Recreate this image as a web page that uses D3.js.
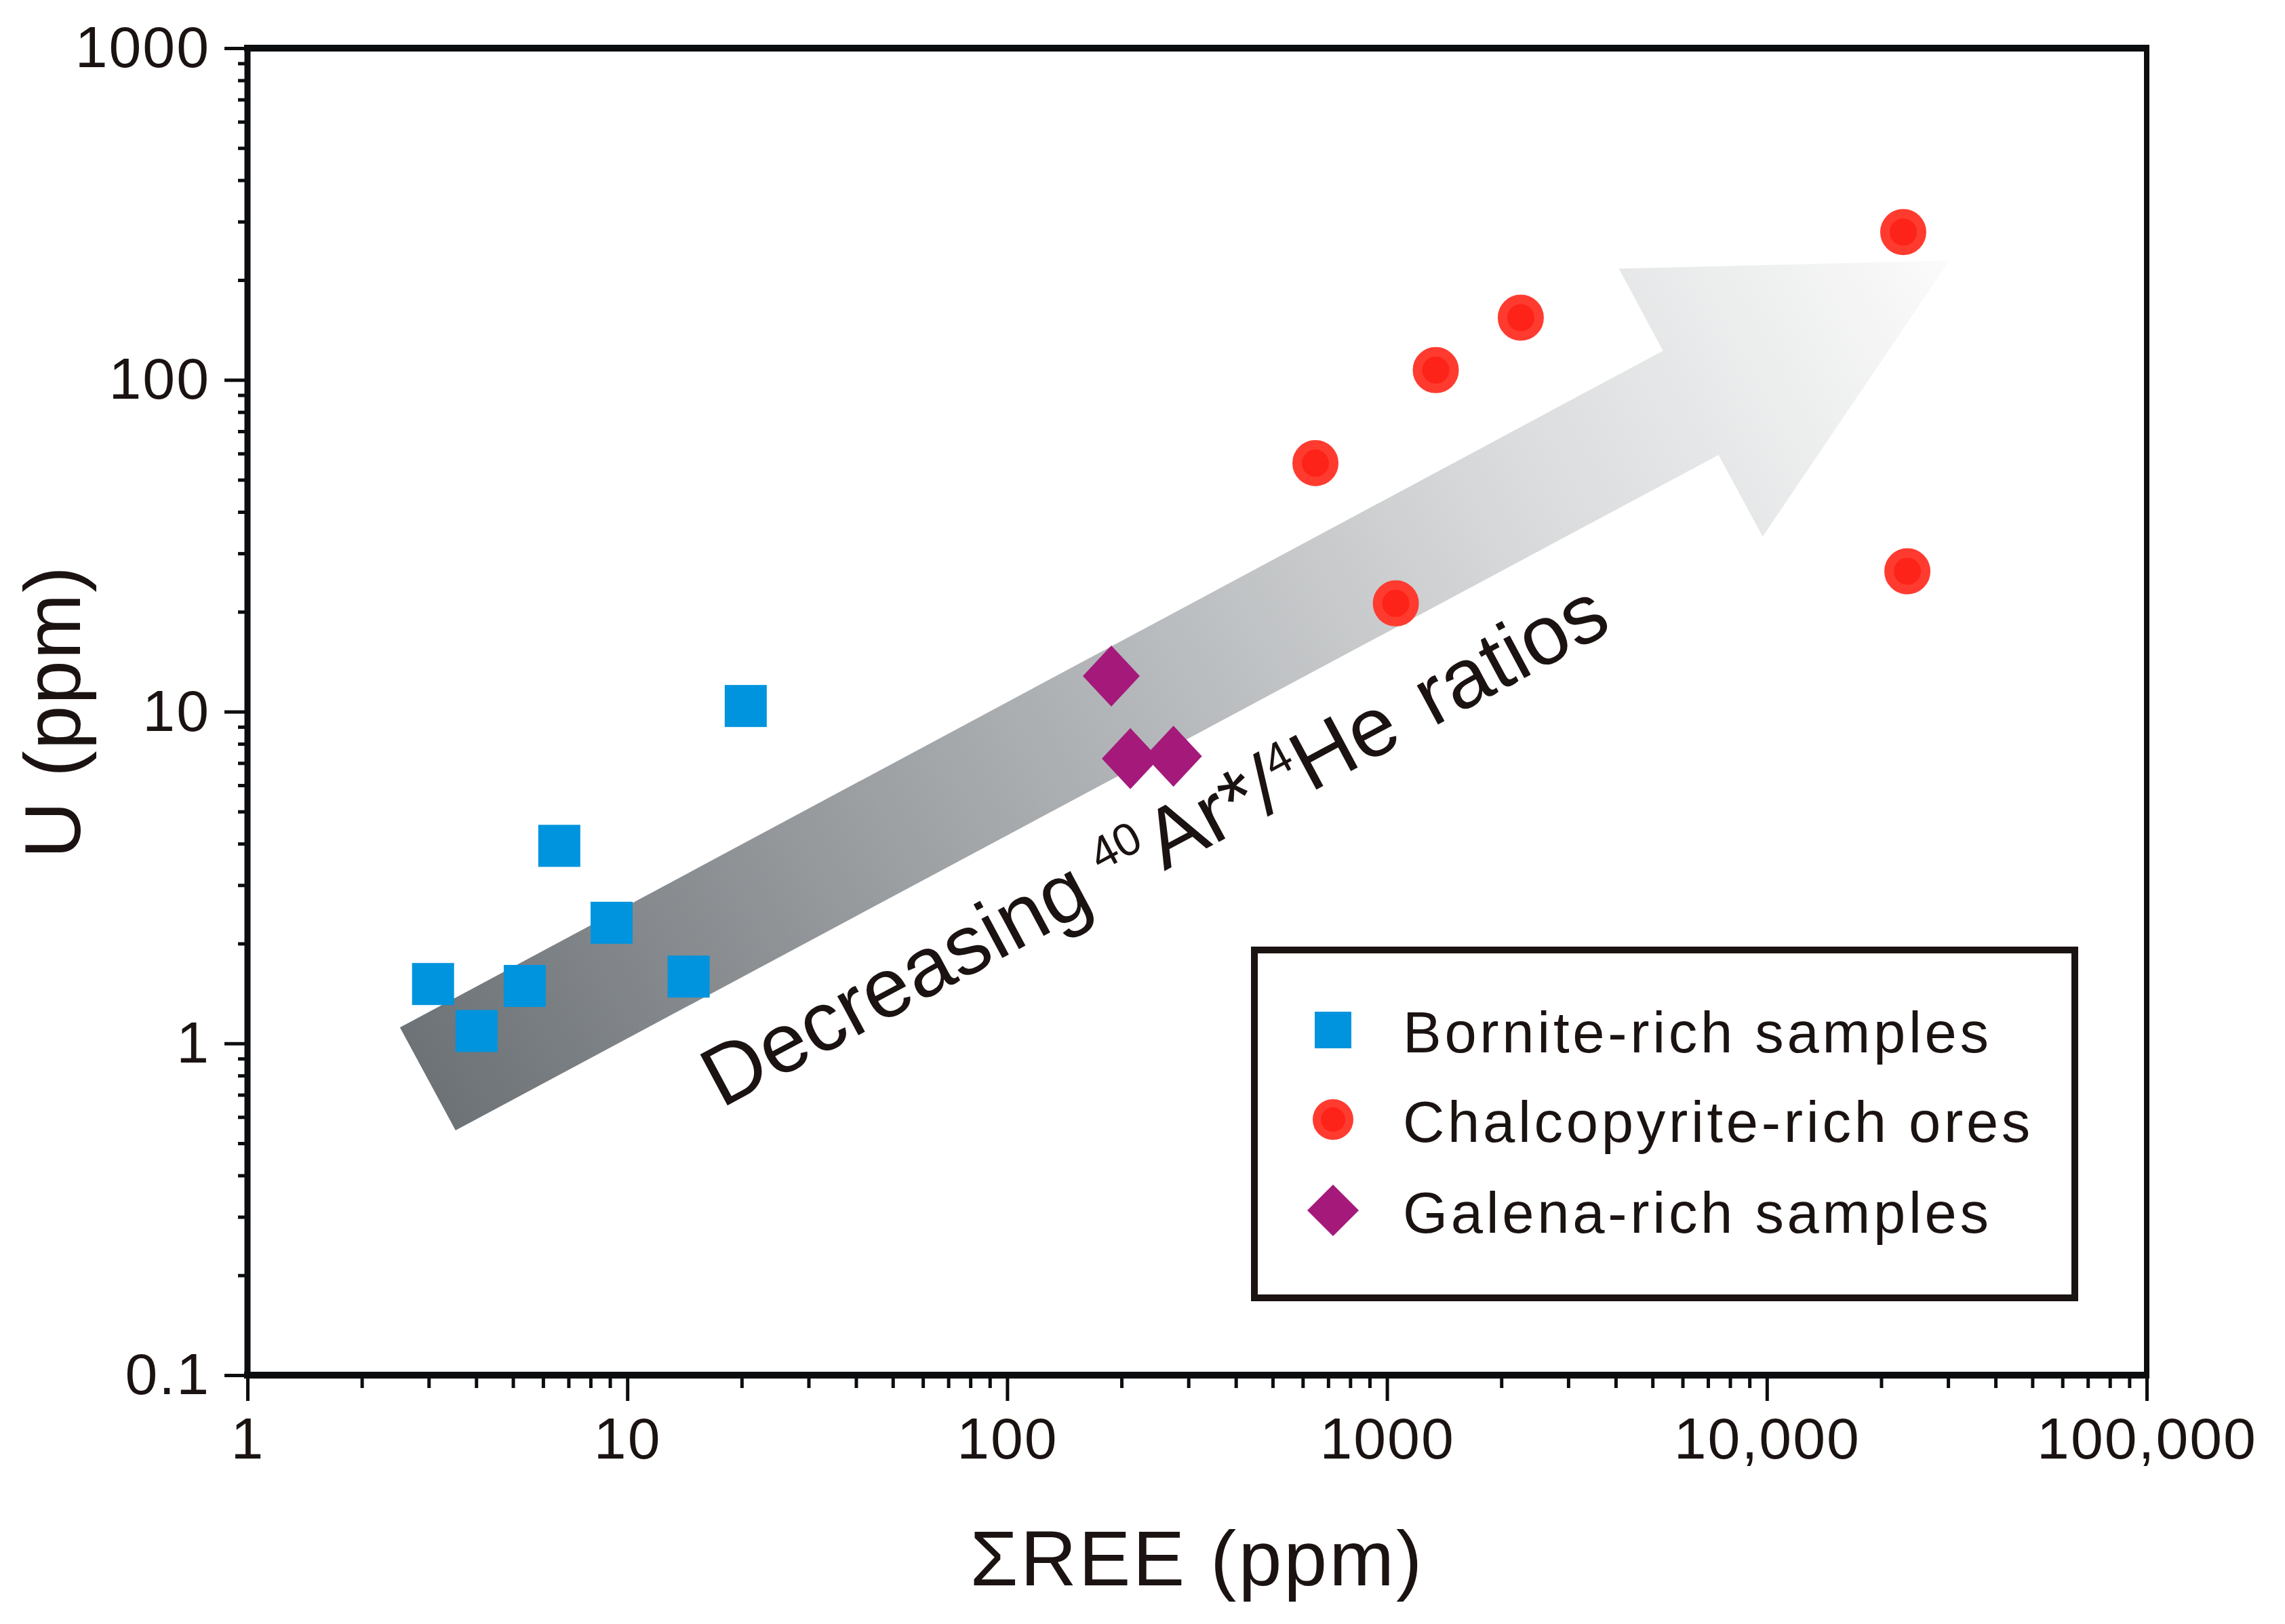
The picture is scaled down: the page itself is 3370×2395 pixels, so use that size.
<!DOCTYPE html>
<html>
<head>
<meta charset="utf-8">
<script src="https://cdn.jsdelivr.net/npm/d3@7"></script>
<style>
  html, body { margin: 0; padding: 0; background: #fff; }
  text { font-family: "Liberation Sans", Arial, sans-serif; fill: #1a1311; }
</style>
</head>
<body>
<script>
// sample data (x = sum REE ppm, y = U ppm)
var borniteREE = [3.08, 4.01, 5.37, 6.62, 9.09, 14.5, 20.5]
var borniteU   = [1.51, 1.09, 1.49, 3.94, 2.31, 1.59, 10.4]

var chalcoREE = [648, 1344, 2250, 22860, 1055, 23440]
var chalcoU   = [56.1, 107, 154, 279, 21.2, 26.5]

var galenaREE = [188, 211, 274]
var galenaU   = [12.8, 7.22, 7.34]

var xTickValues = [1, 10, 100, 1000, 10000, 100000]
var xTickLabels = ['1', '10', '100', '1000', '10,000', '100,000']
var yTickValues = [0.1, 1, 10, 100, 1000]
var yTickLabels = ['0.1', '1', '10', '100', '1000']

var legendLabels = ['Bornite-rich samples', 'Chalcopyrite-rich ores', 'Galena-rich samples']

// trend arrow outline in data units (REE, U)
var arrowREE = [2.52, 5329, 4078, 30240, 9750, 7460, 3.53]
var arrowU   = [1.117, 122.4, 216.4, 229, 33.7, 59.4, 0.547]

var width = 3370
var height = 2395
var plotL = 365, plotR = 3166, plotT = 71, plotB = 2028

var x = d3.scaleLog().domain([1, 100000]).range([plotL, plotR])
var y = d3.scaleLog().domain([0.1, 1000]).range([plotB, plotT])

var svg = d3.select('body').append('svg')
  .attr('width', width)
  .attr('height', height)
  .style('display', 'block')

svg.append('rect').attr('width', width).attr('height', height).attr('fill', '#fff')

var defs = svg.append('defs')
var grad = defs.append('linearGradient')
  .attr('id', 'arrowGrad')
  .attr('gradientUnits', 'userSpaceOnUse')
  .attr('x1', x(2.9)).attr('y1', y(0.78))
  .attr('x2', x(30240)).attr('y2', y(229))
grad.append('stop').attr('offset', 0).attr('stop-color', '#6d7276')
grad.append('stop').attr('offset', 0.4).attr('stop-color', '#abaeb1')
grad.append('stop').attr('offset', 0.72).attr('stop-color', '#d9dbdc')
grad.append('stop').attr('offset', 1).attr('stop-color', '#fbfbfb')

// minor ticks
function minors(lo, hi) {
  var out = []
  for (var p = lo; p < hi; p *= 10) {
    for (var k = 2; k <= 9; k++) out.push(p * k)
  }
  return out
}

svg.append('g')
  .attr('class', 'x minor')
  .attr('transform', 'translate(0,' + plotB + ')')
  .call(d3.axisBottom(x).tickValues(minors(1, 100000)).tickSize(19).tickSizeOuter(0).tickFormat(''))

svg.append('g')
  .attr('class', 'x axis')
  .attr('transform', 'translate(0,' + plotB + ')')
  .call(d3.axisBottom(x).tickValues(xTickValues).tickSize(38).tickSizeOuter(0).tickPadding(24)
    .tickFormat(function (d, i) { return xTickLabels[i] }))

svg.append('g')
  .attr('class', 'y minor')
  .attr('transform', 'translate(' + plotL + ',0)')
  .call(d3.axisLeft(y).tickValues(minors(0.1, 1000)).tickSize(14).tickSizeOuter(0).tickFormat(''))

svg.append('g')
  .attr('class', 'y axis')
  .attr('transform', 'translate(' + plotL + ',0)')
  .call(d3.axisLeft(y).tickValues(yTickValues).tickSize(34).tickSizeOuter(0).tickPadding(21)
    .tickFormat(function (d, i) { return yTickLabels[i] }))

svg.selectAll('.domain').remove()
svg.selectAll('.tick line').attr('stroke', '#0b0d0f').attr('stroke-width', 5)
svg.selectAll('.tick text')
  .style('font-size', '86px')
  .style('letter-spacing', '2px')
  .attr('fill', '#1a1311')

// frame
svg.append('line').attr('x1', plotL).attr('x2', plotL).attr('y1', plotT - 5).attr('y2', plotB + 5)
  .attr('stroke', '#0b0d0f').attr('stroke-width', 9)
svg.append('line').attr('x1', plotR).attr('x2', plotR).attr('y1', plotT - 5).attr('y2', plotB + 5)
  .attr('stroke', '#0b0d0f').attr('stroke-width', 8)
svg.append('line').attr('x1', plotL - 5).attr('x2', plotR + 4).attr('y1', plotT).attr('y2', plotT)
  .attr('stroke', '#0b0d0f').attr('stroke-width', 10)
svg.append('line').attr('x1', plotL - 5).attr('x2', plotR + 4).attr('y1', plotB).attr('y2', plotB)
  .attr('stroke', '#0b0d0f').attr('stroke-width', 10)

// arrow
var arrowPts = arrowREE.map(function (v, i) { return [x(v), y(arrowU[i])] })
svg.append('path')
  .attr('d', 'M' + arrowPts.join('L') + 'Z')
  .attr('fill', 'url(#arrowGrad)')

// arrow caption
var capX = x(17.7), capY = y(0.636)
var cap = svg.append('text')
  .attr('transform', 'translate(' + capX + ',' + capY + ') rotate(-28.2)')
  .style('font-size', '124px')
  .attr('fill', '#111')
cap.append('tspan').text('Decreasing')
cap.append('tspan').attr('dx', 30).attr('dy', -44).style('font-size', '68px').text('40')
cap.append('tspan').attr('dx', 8).attr('dy', 44).text('Ar*/')
cap.append('tspan').attr('dy', -44).style('font-size', '68px').text('4')
cap.append('tspan').attr('dy', 44).text('He')
cap.append('tspan').attr('dx', 12).text(' ratios')

// points
function diamond(cx, cy, hw, hh) {
  return 'M' + cx + ',' + (cy - hh) + 'L' + (cx + hw) + ',' + cy +
    'L' + cx + ',' + (cy + hh) + 'L' + (cx - hw) + ',' + cy + 'Z'
}

svg.append('g').selectAll('rect')
  .data(borniteREE)
  .enter().append('rect')
  .attr('x', function (d) { return x(d) - 31 })
  .attr('y', function (d, i) { return y(borniteU[i]) - 31 })
  .attr('width', 62).attr('height', 62)
  .attr('fill', '#0094de')

svg.append('g').selectAll('circle')
  .data(chalcoREE)
  .enter().append('circle')
  .attr('cx', function (d) { return x(d) })
  .attr('cy', function (d, i) { return y(chalcoU[i]) })
  .attr('r', 27)
  .attr('fill', '#fd2318')
  .attr('stroke', '#ff3b30')
  .attr('stroke-width', 14)

svg.append('g').selectAll('path')
  .data(galenaREE)
  .enter().append('path')
  .attr('d', function (d, i) { return diamond(x(d), y(galenaU[i]), 42, 45) })
  .attr('fill', '#a5197b')

// legend
var lg = svg.append('g')
lg.append('rect')
  .attr('x', 1850).attr('y', 1401).attr('width', 1210).attr('height', 513)
  .attr('fill', '#fff').attr('stroke', '#1a1311').attr('stroke-width', 10)
var rows = [1519, 1651, 1785]
lg.append('rect').attr('x', 1966 - 27).attr('y', rows[0] - 27).attr('width', 54).attr('height', 54).attr('fill', '#0094de')
lg.append('circle').attr('cx', 1966).attr('cy', rows[1]).attr('r', 24)
  .attr('fill', '#fd2318').attr('stroke', '#ff3b30').attr('stroke-width', 12)
lg.append('path').attr('d', diamond(1966, rows[2], 38, 38)).attr('fill', '#a5197b')
lg.selectAll('text.lab')
  .data(legendLabels)
  .enter().append('text')
  .attr('class', 'lab')
  .attr('x', 2069)
  .attr('y', function (d, i) { return rows[i] + 33 })
  .style('font-size', '85px')
  .style('letter-spacing', '4.7px')
  .text(function (d) { return d })

// axis titles
svg.append('text')
  .attr('x', (plotL + plotR) / 2)
  .attr('y', 2338)
  .attr('text-anchor', 'middle')
  .style('font-size', '115px')
  .style('letter-spacing', '3px')
  .text('ΣREE (ppm)')

svg.append('text')
  .attr('transform', 'translate(118,' + (plotT + plotB) / 2 + ') rotate(-90)')
  .attr('text-anchor', 'middle')
  .style('font-size', '116px')
  .style('letter-spacing', '2px')
  .text('U (ppm)')
</script>
</body>
</html>
